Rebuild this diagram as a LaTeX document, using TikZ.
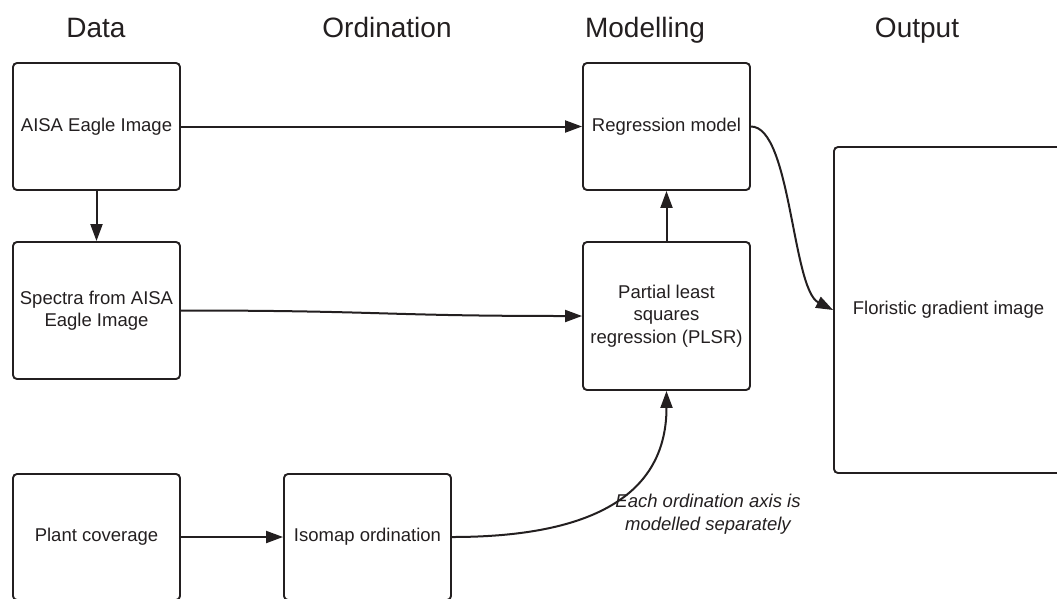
\documentclass[tikz,border=0pt]{standalone}
\usepackage{fontspec}
\setmainfont{Liberation Sans}
\usepackage{xcolor}
\usepackage{tikz}
\usetikzlibrary{arrows.meta,positioning}
\definecolor{flowInk}{RGB}{35,31,32}

\begin{document}
\begin{tikzpicture}[x=1pt,y=-1pt,
  stagebox/.style={draw=flowInk, text=flowInk, line width=1.9pt, rounded corners=4pt,
    minimum width=167pt, align=center, inner sep=2pt,
    font=\fontsize{18.5}{22.5}\selectfont},
  heading/.style={text=flowInk, anchor=base, font=\fontsize{28}{32}\selectfont},
  link/.style={draw=flowInk, line width=2pt, -{Triangle[length=17pt,width=12pt]}}]
\useasboundingbox (0,0) rectangle (1057,598);

% column headings
\node[heading] (hData) at (96,37) {Data};
\node[heading] (hOrd) at (387,37) {Ordination};
\node[heading] (hMod) at (645,37) {Modelling};
\node[heading] (hOut) at (917,37) {Output};

% boxes
\node[stagebox, minimum height=127pt] (aisa) at (96.5,126.5) {AISA Eagle Image};
\node[stagebox, minimum height=137pt] (spectra) at (96.5,310.5) {Spectra from AISA\\Eagle Image};
\node[stagebox, minimum height=126pt] (plant) at (96.5,537) {Plant coverage};
\node[stagebox, minimum height=126pt] (isomap) at (367.5,537) {Isomap ordination};
\node[stagebox, minimum height=127pt] (regr) at (666.5,126.5) {Regression model};
\node[stagebox, minimum height=148pt] (plsr) at (666.5,316) {Partial least\\squares\\regression (PLSR)};
\node[stagebox, minimum width=229pt, minimum height=326pt] (flor) at (948.5,310) {Floristic gradient image};

% connectors
\draw[link] (aisa.east) -- (regr.west);
\draw[link] (aisa.south) -- (spectra.north);
\draw[link] (spectra.east) .. controls +(200,0) and +(-200,0) .. (plsr.west);
\draw[link] (plsr.north) -- (regr.south);
\draw[link] (plant.east) -- (isomap.west);
\draw[link] (isomap.east) .. controls +(130,0) and +(0,110) .. (plsr.south);
\draw[link] (regr.east) .. controls +(40,0) and +(-41,-21) .. (flor.west);

\node[text=flowInk, align=center, font=\fontsize{18.5}{23}\selectfont\itshape] (axisNote) at (708,514)
  {Each ordination axis is\\modelled separately};
\end{tikzpicture}
\end{document}
